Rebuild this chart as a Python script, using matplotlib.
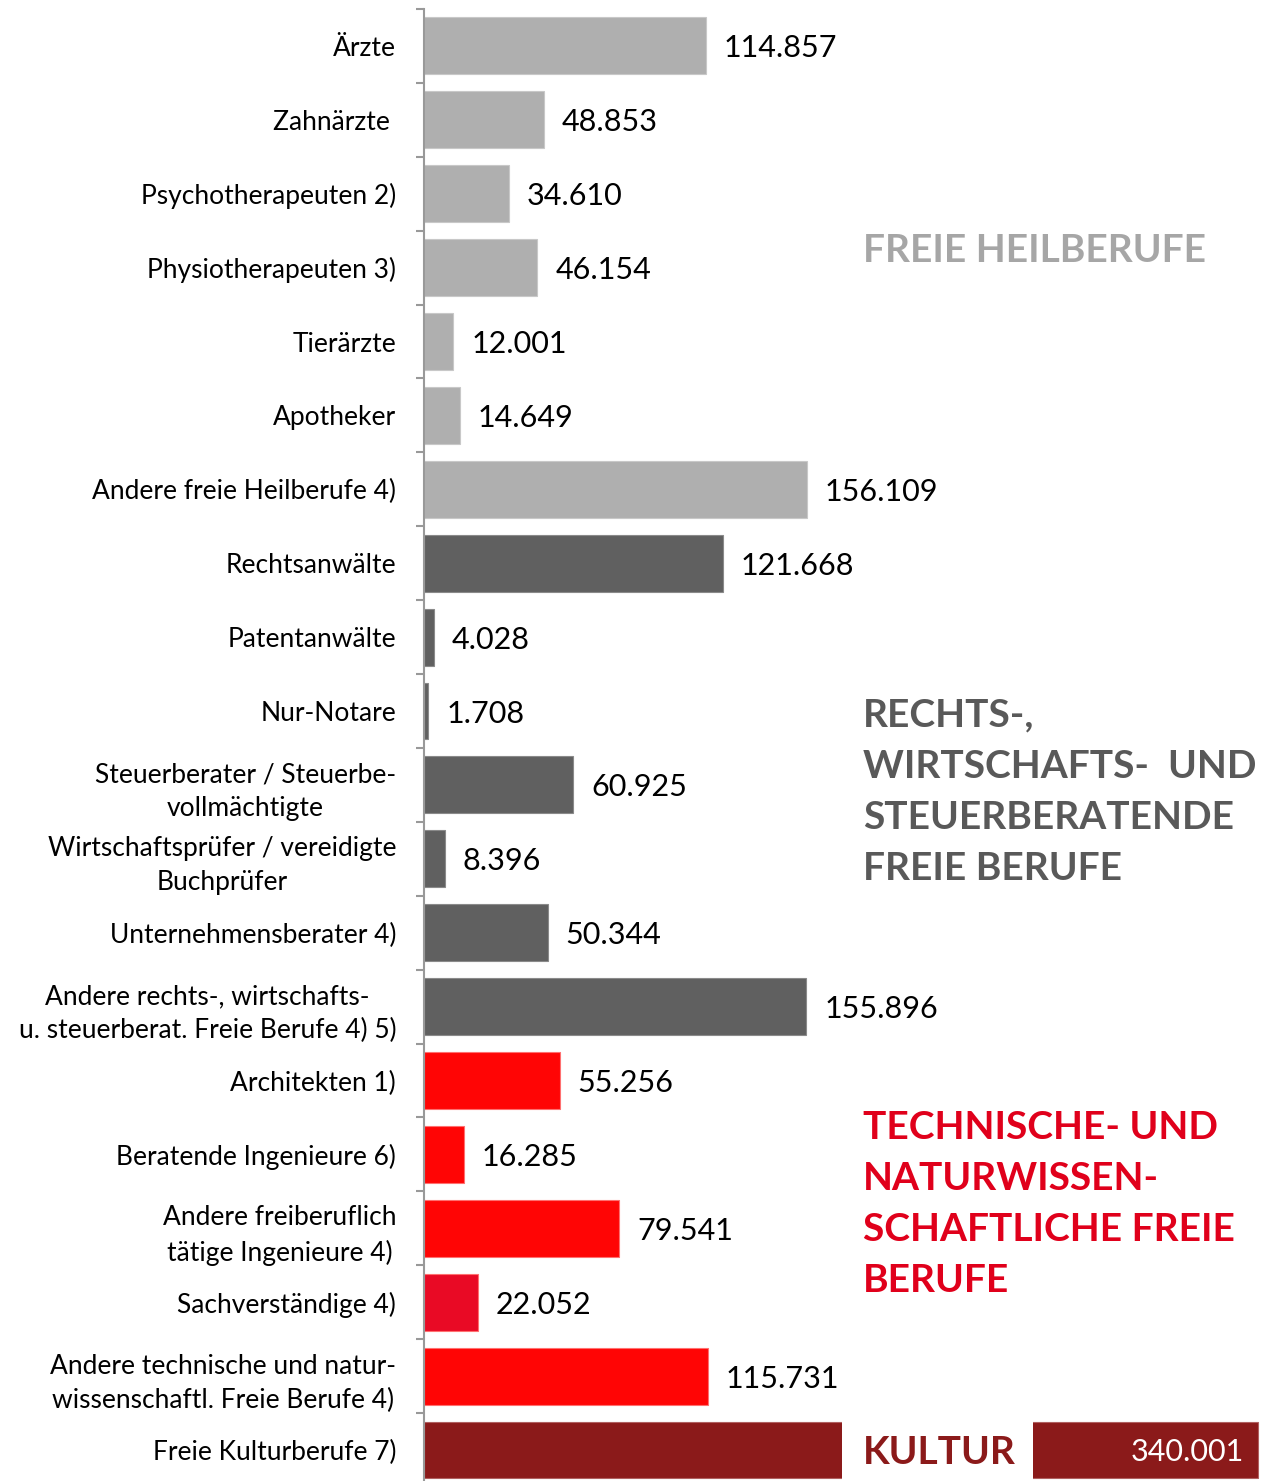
import numpy as np
import matplotlib
matplotlib.use("Agg")
import matplotlib.pyplot as plt
from matplotlib.patches import Rectangle

plt.rcParams['font.family'] = ['Lato', 'DejaVu Sans']

# Daten
kategorien = [
    "Ärzte", "Zahnärzte ", "Psychotherapeuten 2)", "Physiotherapeuten 3)",
    "Tierärzte", "Apotheker", "Andere freie Heilberufe 4)",
    "Rechtsanwälte", "Patentanwälte", "Nur-Notare",
    "Steuerberater / Steuerbe-\nvollmächtigte",
    "Wirtschaftsprüfer / vereidigte\nBuchprüfer",
    "Unternehmensberater 4)",
    "Andere rechts-, wirtschafts-\nu. steuerberat. Freie Berufe 4) 5)",
    "Architekten 1)", "Beratende Ingenieure 6)",
    "Andere freiberuflich\ntätige Ingenieure 4)",
    "Sachverständige 4)",
    "Andere technische und natur-\nwissenschaftl. Freie Berufe 4)",
    "Freie Kulturberufe 7)",
]
werte = [114857, 48853, 34610, 46154, 12001, 14649, 156109,
         121668, 4028, 1708, 60925, 8396, 50344, 155896,
         55256, 16285, 79541, 22052, 115731, 340001]
gruppen = ["heil"] * 7 + ["recht"] * 7 + ["tech"] * 5 + ["kultur"]

farben = {"heil": "#afafaf", "recht": "#606060", "tech": "#ff0505", "kultur": "#8b1a1a"}
kanten = {"heil": "#c8c8c8", "recht": "#8a8a8a", "tech": "#ff7070", "kultur": "#b06060"}


def fmt(v):
    return "{:,}".format(v).replace(",", ".")


W, H = 1278, 1481
fig = plt.figure(figsize=(W / 100, H / 100), dpi=100)
ax = fig.add_axes([424 / W, 0, (W - 424) / W, (H - 9) / H])

y = np.arange(len(kategorien))
cols = [farben[g] for g in gruppen]
cols[17] = "#e90a25"  # Sachverständige etwas dunkler
ax.barh(y, werte, height=0.77, color=cols,
        edgecolor=[kanten[g] for g in gruppen], linewidth=0.8)

px = 0.0024534  # Pixel pro Einheit
ax.set_xlim(0, (W - 424) / px)
ax.set_ylim(19.42, -0.5)

for yi, v, g in zip(y, werte, gruppen):
    if g == "kultur":
        ax.text(v - 14 / px, yi, fmt(v), ha="right", va="center_baseline",
                fontsize=22, color="white")
    else:
        ax.text(v + 18 / px, yi, fmt(v), ha="left", va="center_baseline",
                fontsize=22, color="black")

# Unterbrechung des Kultur-Balkens
ax.add_patch(Rectangle((418 / px, 19 - 0.45), 191 / px, 0.9,
                       facecolor="white", edgecolor="none", zorder=3))

# Achse
for s in ["top", "right", "bottom"]:
    ax.spines[s].set_visible(False)
ax.spines["left"].set_color("#999999")
ax.spines["left"].set_linewidth(1.5)
ax.set_xticks([])
ax.set_yticks(np.arange(-0.5, 19, 1.0))
ax.set_yticklabels([])
ax.set_yticks(y, minor=True)
ax.set_yticklabels(kategorien, minor=True, fontsize=19, multialignment="center",
                   linespacing=1.45)
ax.tick_params(axis="y", which="major", length=6, color="#999999", width=1.5)
ax.tick_params(axis="y", which="minor", length=0, pad=20)

# Gruppentitel
tx = 863 / W
titel = dict(fontsize=28, fontweight="bold", va="center", ha="left", linespacing=1.56)
fig.text(tx, 1 - 250 / H, "FREIE HEILBERUFE", color="#a6a6a6", **titel)
fig.text(tx, 1 - 792 / H, "RECHTS-,\nWIRTSCHAFTS-  UND\nSTEUERBERATENDE\nFREIE BERUFE",
         color="#595959", **titel)
fig.text(tx, 1 - 1204 / H, "TECHNISCHE- UND\nNATURWISSEN-\nSCHAFTLICHE FREIE\nBERUFE",
         color="#e0001b", **titel)
fig.text(tx, 1 - 1453 / H, "KULTUR", color="#8b1a1a", zorder=5, **titel)

fig.savefig("out.png", dpi=100)
